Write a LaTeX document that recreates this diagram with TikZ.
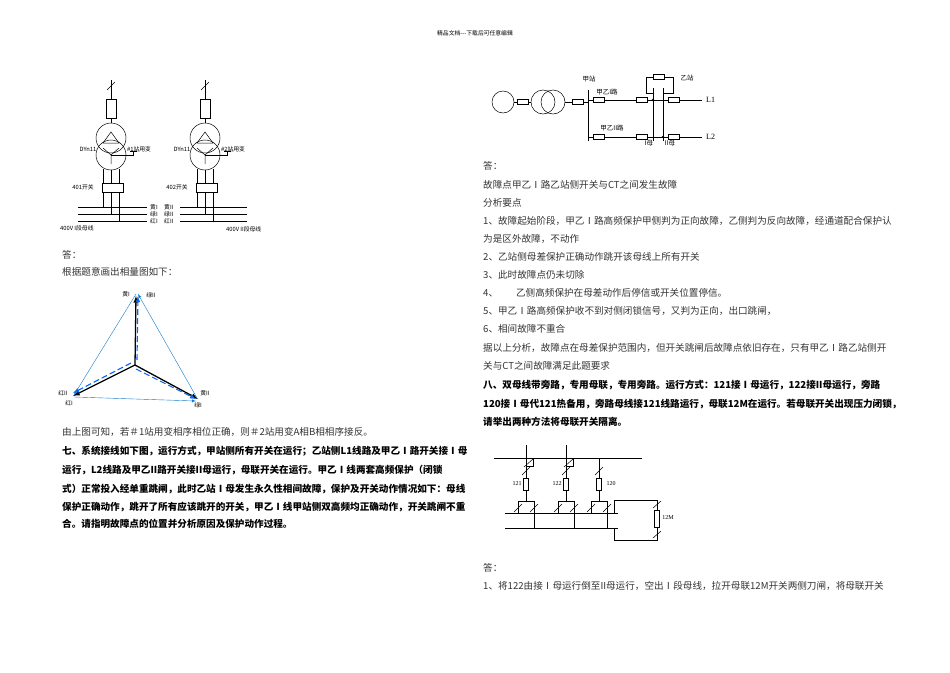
\documentclass[tikz,border=0pt]{standalone}
\usepackage{fontspec}
\setmainfont{Liberation Serif}
\newfontfamily\cjk{Noto Sans CJK SC}
\begin{document}
\begin{tikzpicture}[x=1pt,y=-1pt,
  txt/.style={anchor=west,inner sep=0pt,font=\cjk\fontsize{9.6}{11}\selectfont,text=black!80},
  btxt/.style={anchor=west,inner sep=0pt,font=\cjk\bfseries\fontsize{9.6}{11}\selectfont},
  sm/.style={inner sep=0pt,font=\cjk\fontsize{5.8}{6.5}\selectfont},
  wire/.style={line width=0.5pt},
  res/.style={draw,line width=0.5pt,minimum width=11pt,minimum height=5pt,inner sep=0pt},
  vres/.style={draw,line width=0.5pt,minimum width=5pt,minimum height=12pt,inner sep=0pt}]
\useasboundingbox (0,0) rectangle (950,672);
\node[sm] (hdr) at (475,33) {精品文档---下载后可任意编辑};
% ---------- transformers ----------
\foreach \cx/\n/\sw in {111/1/401,205/2/402}{
  \draw[wire] (\cx,80) -- (\cx,99);
  \draw[wire] (\cx-4,90) -- (\cx+4,82);
  \draw[wire] (\cx-5,99) rectangle (\cx+5,118);
  \draw[wire] (\cx,118) -- (\cx,123);
  \draw[wire] (\cx,138) circle (15);
  \draw[wire] (\cx,155) circle (15);
  \draw[wire] (\cx-8,143) -- (\cx,132) -- (\cx+8,143) -- cycle;
  \draw[wire] (\cx-8,148) -- (\cx,155) -- (\cx+8,148) (\cx,155) -- (\cx,164);
  \draw[wire] (\cx,155) -- (\cx+22,155) -- (\cx+22,151);
  \draw[wire] (\cx+19,151) -- (\cx+26,151);
  \draw[wire] (\cx-9,183) rectangle (\cx+12,192);
  \draw[wire] (\cx-8,169) -- (\cx-8,183) (\cx,170) -- (\cx,183) (\cx+8,169) -- (\cx+8,183);
  \draw[wire] (\cx-8,192) -- (\cx-8,207) (\cx,192) -- (\cx,214) (\cx+8,192) -- (\cx+8,221);
  \node[sm] at (\cx-23,149) {DYn11};
  \node[sm,anchor=west] at (\cx+16,149) {\#\n 站用变};
  \node[sm] at (\cx-28,187) {\sw 开关};
}
\foreach \y in {207,214,221}{\draw[wire] (78,\y) -- (147,\y); \draw[wire] (180,\y) -- (247,\y);}
\node[sm,anchor=west] at (150,207) {黄I}; \node[sm,anchor=west] at (150,214) {绿I}; \node[sm,anchor=west] at (150,221) {红I};
\node[sm,anchor=west] at (164,207) {黄II}; \node[sm,anchor=west] at (164,214) {绿II}; \node[sm,anchor=west] at (164,221) {红II};
\node[sm,anchor=west] at (60,228) {400V I段母线};
\node[sm,anchor=west] at (226,229) {400V II段母线};
% ---------- phasor ----------
\coordinate (O) at (135,365); \coordinate (T) at (136,296); \coordinate (L) at (73,396); \coordinate (R) at (198,399);
\draw[-latex,line width=1.3pt] (O) -- (T);
\draw[-latex,line width=1.3pt] (O) -- (L);
\draw[-latex,line width=1.3pt] (O) -- (R);
\draw[-latex,line width=1.1pt,dash pattern=on 6pt off 3pt,blue!60!cyan] (137,360) -- (138,296);
\draw[-latex,line width=1.1pt,dash pattern=on 6pt off 3pt,blue!60!cyan] (131,363) -- (73,393);
\draw[-latex,line width=1.1pt,dash pattern=on 6pt off 3pt,blue!60!cyan] (136,369) -- (196,399);
\draw[-latex,line width=0.4pt,cyan!60!blue] (136,294) -- (74,395);
\draw[-latex,line width=0.4pt,cyan!60!blue] (74,397) -- (196,401);
\draw[-latex,line width=0.4pt,cyan!60!blue] (197,398) -- (138,294);
\node[sm] at (126,294) {黄I}; \node[sm] at (151,295) {绿II};
\node[sm] at (63,393) {红II}; \node[sm] at (69,403) {红I};
\node[sm] at (205,393) {黄II}; \node[sm] at (198,405) {绿I};
% ---------- left text ----------
\node[txt] (a1) at (62,255) {答：};
\node[txt] (a2) at (62,272) {根据题意画出相量图如下：};
\node[txt] (a3) at (62,432) {由上图可知，若＃1站用变相序相位正确，则＃2站用变A相B相相序接反。};
\node[btxt] at (62,451) {七、系统接线如下图，运行方式，甲站侧所有开关在运行；乙站侧L1线路及甲乙Ⅰ路开关接Ⅰ母};
\node[btxt] at (62,470) {运行，L2线路及甲乙II路开关接II母运行，母联开关在运行。甲乙Ⅰ线两套高频保护（闭锁};
\node[btxt] at (62,489) {式）正常投入经单重跳闸，此时乙站Ⅰ母发生永久性相间故障，保护及开关动作情况如下：母线};
\node[btxt] at (62,507) {保护正确动作，跳开了所有应该跳开的开关，甲乙Ⅰ线甲站侧双高频均正确动作，开关跳闸不重};
\node[btxt] at (62,524) {合。请指明故障点的位置并分析原因及保护动作过程。};
% ---------- system diagram ----------
\draw[wire] (503,102) circle (11);
\node[res] (g1) at (523,102) {};
\draw[wire] (514,102) -- (g1.west) (g1.east) -- (531,102);
\draw[wire] (543,102) circle (12); \draw[wire] (553,102) circle (12);
\node[res] (g2) at (578,102) {};
\draw[wire] (565,102) -- (g2.west) (g2.east) -- (588,102);
\draw[wire] (588,90) -- (588,141);
\node[sm,font=\cjk\fontsize{6.5}{7}\selectfont] at (589,79) {甲站};
\foreach \y/\lab/\Ln in {100/甲乙I路/L1,137/甲乙II路/L2}{
  \node[res] at (599,\y) {}; \draw[wire] (588,\y) -- (593,\y) (605,\y) -- (637,\y);
  \node[res] at (642,\y) {}; \draw[wire] (648,\y) -- (668,\y);
  \node[res] at (674,\y) {}; \draw[wire] (680,\y) -- (702,\y);
  \node[sm,font=\fontsize{8}{9}\selectfont,anchor=west] at (706,\y) {\Ln};
}
\node[sm,font=\cjk\fontsize{6.5}{7}\selectfont] at (607,92) {甲乙I路};
\node[sm,font=\cjk\fontsize{6.5}{7}\selectfont] at (612,128) {甲乙II路};
\draw[wire] (653,88) -- (653,141); \draw[wire] (663,88) -- (663,141);
\fill (653,100) circle (1.3); \fill (663,137) circle (1.3);
\draw[wire] (646,93) -- (646,77) -- (653,77); \draw[wire] (665,77) -- (673,77) -- (673,93) -- (663,93);
\draw[wire] (646,93) -- (653,93);
\node[res] at (659,77) {};
\node[sm,font=\cjk\fontsize{6.5}{7}\selectfont] at (687,78) {乙站};
\node[sm,font=\cjk\fontsize{6.5}{7}\selectfont] at (649,143) {I母};
\node[sm,font=\cjk\fontsize{6.5}{7}\selectfont] at (670,143) {II母};
% ---------- right text ----------
\node[txt] at (483,166) {答：};
\node[txt] at (483,185) {故障点甲乙Ⅰ路乙站侧开关与CT之间发生故障};
\node[txt] at (483,203) {分析要点};
\node[txt] at (483,221) {1、故障起始阶段，甲乙Ⅰ路高频保护甲侧判为正向故障，乙侧判为反向故障，经通道配合保护认};
\node[txt] at (483,239) {为是区外故障，不动作};
\node[txt] at (483,257) {2、乙站侧母差保护正确动作跳开该母线上所有开关};
\node[txt] at (483,275) {3、此时故障点仍未切除};
\node[txt] at (483,293) {4、\hspace{18pt}乙侧高频保护在母差动作后停信或开关位置停信。};
\node[txt] at (483,311) {5、甲乙Ⅰ路高频保护收不到对侧闭锁信号，又判为正向，出口跳闸，};
\node[txt] at (483,329) {6、相间故障不重合};
\node[txt] at (483,348) {据以上分析，故障点在母差保护范围内，但开关跳闸后故障点依旧存在，只有甲乙Ⅰ路乙站侧开};
\node[txt] at (483,366) {关与CT之间故障满足此题要求};
\node[btxt] at (483,385) {八、双母线带旁路，专用母联，专用旁路。运行方式：121接Ⅰ母运行，122接II母运行，旁路};
\node[btxt] at (483,404) {120接Ⅰ母代121热备用，旁路母线接121线路运行，母联12M在运行。若母联开关出现压力闭锁，};
\node[btxt] at (483,422) {请举出两种方法将母联开关隔离。};
% ---------- double bus diagram ----------
\draw[wire] (494,458) -- (642,458);
\draw[wire] (505,513) -- (618,513); \draw[wire] (505,528) -- (618,528);
\foreach \x/\lab/\ext in {526/121/1,566/122/1,599/120/0}{
  \ifnum\ext=1 \draw[wire] (\x,445) -- (\x,458); \fi
  \draw[wire] (\x,458) -- (\x,478) (\x,490) -- (\x,501);
  \draw[wire] (\x-4,475) -- (\x+4,467);
  \node[vres] at (\x,484) {};
  \draw[wire] (\x-8,513) -- (\x-8,501) -- (\x+8,501) -- (\x+8,528);
  \draw[wire] (\x-12,512) -- (\x-4,504) (\x+4,512) -- (\x+12,504);
}
\draw[wire] (526,458) -- (526,466) -- (533,466) -- (533,459); \draw[wire] (524,467) -- (533,459);
\draw[wire] (566,458) -- (566,466) -- (573,466) -- (573,459); \draw[wire] (564,467) -- (573,459);
\node[sm,font=\fontsize{6}{7}\selectfont] at (517,484) {121};
\node[sm,font=\fontsize{6}{7}\selectfont] at (557,484) {122};
\node[sm,font=\fontsize{6}{7}\selectfont] at (611,484) {120};
\draw[wire] (614,513) -- (614,500) -- (657,500) -- (657,510);
\draw[wire] (614,528) -- (614,540) -- (657,540) -- (657,527);
\draw[wire] (653,508) -- (661,501) (653,538) -- (661,531);
\draw[wire] (654.5,510) rectangle (659.5,527);
\node[sm,font=\fontsize{6}{7}\selectfont] at (668,518) {12M};
\node[txt] at (483,568) {答：};
\node[txt] at (483,586) {1、将122由接Ⅰ母运行倒至II母运行，空出Ⅰ段母线，拉开母联12M开关两侧刀闸，将母联开关};
\end{tikzpicture}
\end{document}
